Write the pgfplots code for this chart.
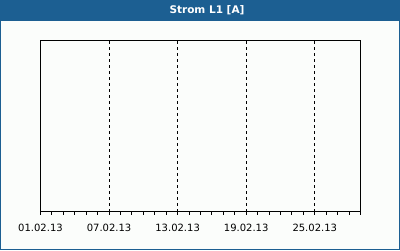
\documentclass[border=0pt]{standalone}
\usepackage{pgfplots}
\pgfplotsset{compat=1.18}
\usepackage{fontspec}
\setmainfont{DejaVu Sans}
\definecolor{titleblue}{HTML}{1C5F92}
\definecolor{bgwhite}{HTML}{FBFDFB}
\begin{document}
\begin{tikzpicture}[x=1pt,y=1pt]
\fill[titleblue] (0,0) rectangle (400,250);
\fill[bgwhite] (1,1) rectangle (399,229.5);
\node[text=white,font=\fontsize{10.5}{12}\selectfont\bfseries] at (207,240) {Strom L1 [A]};
\begin{axis}[
  at={(40.5pt,38.5pt)}, anchor=south west,
  scale only axis, width=320pt, height=171pt,
  xmin=0, xmax=28, ymin=0, ymax=1,
  axis line style={black, line width=1pt},
  xtick={0,6,12,18,24},
  xticklabels={01.02.13,07.02.13,13.02.13,19.02.13,25.02.13},
  minor xtick={0,1,...,28},
  extra x ticks={6,12,18,24},
  extra x tick labels={},
  extra x tick style={grid=major, major grid style={black, line width=1pt, dash pattern=on 3pt off 3pt}},
  ytick=\empty,
  tick align=outside,
  major tick length=3pt, minor tick length=3pt,
  every tick/.style={black, line width=1pt},
  xtick pos=bottom,
  xticklabel style={font=\fontsize{10}{12}\selectfont, yshift=-6pt},
  /pgf/number format/assume math mode=true,
]
\end{axis}
\end{tikzpicture}
\end{document}
